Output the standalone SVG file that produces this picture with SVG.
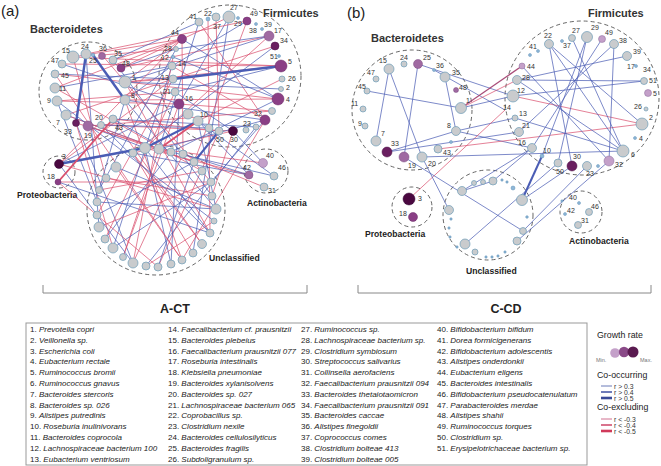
<svg xmlns="http://www.w3.org/2000/svg" width="661" height="466" viewBox="0 0 661 466">
<style>
text{font-family:"Liberation Sans",Arial,sans-serif;fill:#333}
.pl{font-size:15px;fill:#222}
.grp{font-size:11px;font-weight:bold}
.sub{font-size:8.6px;font-weight:bold;fill:#222}
.big{font-size:12.5px;font-weight:bold;fill:#222;text-anchor:middle}
.lb{font-size:7px;fill:#333}
.dash{fill:none;stroke:#555;stroke-width:0.9;stroke-dasharray:4 3}
.b{stroke:#4a5cb4;stroke-width:0.8;stroke-opacity:0.9}
.r{stroke:#d9506e;stroke-width:0.8;stroke-opacity:0.9}
.B{stroke:#4a5cb4;stroke-width:2.4}
.R{stroke:#d9506e;stroke-width:1.9}
.g{fill:#c9cbcd;stroke:#6d9cb8;stroke-width:0.7}
.s{fill:#8fb8d8;stroke:#5f8fb5;stroke-width:0.5}
.p1{fill:#c4a0c9;stroke:#8a6a9a;stroke-width:0.5}
.p2{fill:#a06aa2;stroke:#7a4a80;stroke-width:0.5}
.p3{fill:#8a3f85;stroke:#6a2a66;stroke-width:0.5}
.p4{fill:#6a1f60;stroke:#4a1044;stroke-width:0.5}
.p5{fill:#4a0840;stroke:#300530;stroke-width:0.5}
.lg{font-size:8px;fill:#222}
.i{font-style:italic}
.lh{font-size:8.8px;fill:#222}
.sm{font-size:5.5px;fill:#777}
.rl{font-size:6.8px;fill:#333}
.br{fill:none;stroke:#888;stroke-width:1}
</style>

<!-- panel labels -->
<text class="pl" x="1" y="16">(a)</text>
<text class="pl" x="347" y="18">(b)</text>

<!-- group outlines -->
<g id="groups">
<circle class="dash" cx="88" cy="91" r="49"/>
<text class="grp" x="30" y="33">Bacteroidetes</text>
<circle class="dash" cx="230" cy="76" r="71"/>
<text class="grp" x="263" y="17">Firmicutes</text>
<circle class="dash" cx="59" cy="172" r="16"/>
<text class="sub" x="17" y="198">Proteobacteria</text>
<ellipse class="dash" cx="156" cy="210" rx="69" ry="65"/>
<text class="sub" x="209" y="261">Unclassified</text>
<circle class="dash" cx="266" cy="171" r="22"/>
<text class="sub" x="247" y="206">Actinobacteria</text>

<circle class="dash" cx="412" cy="110" r="60"/>
<text class="grp" x="371" y="42">Bacteroidetes</text>
<circle class="dash" cx="582" cy="98" r="77"/>
<text class="grp" x="588" y="17">Firmicutes</text>
<circle class="dash" cx="412" cy="207" r="20"/>
<text class="sub" x="365" y="237">Proteobacteria</text>
<circle class="dash" cx="488" cy="215" r="45"/>
<text class="sub" x="466" y="274">Unclassified</text>
<circle class="dash" cx="581" cy="212" r="21"/>
<text class="sub" x="569" y="244">Actinobacteria</text>
</g>

<!-- connectors -->
<g id="connectors">
<!-- panel a thin -->
<line class="r" x1="73" y1="57" x2="182" y2="39"/>
<line class="r" x1="113" y1="60" x2="182" y2="39"/>
<line class="r" x1="102" y1="55" x2="176" y2="49"/>
<line class="r" x1="121" y1="68" x2="269" y2="36"/>
<line class="b" x1="121" y1="68" x2="176" y2="49"/>
<line class="r" x1="125" y1="82" x2="182" y2="39"/>
<line class="b" x1="125" y1="82" x2="269" y2="36"/>
<line class="r" x1="125" y1="82" x2="173" y2="79"/>
<line class="r" x1="125" y1="82" x2="281" y2="66"/>
<line class="b" x1="125" y1="100" x2="172" y2="66"/>
<line class="r" x1="125" y1="100" x2="278" y2="99"/>
<line class="b" x1="125" y1="100" x2="265" y2="120"/>
<line class="b" x1="125" y1="100" x2="216" y2="209"/>
<line class="r" x1="125" y1="100" x2="182" y2="260"/>
<line class="r" x1="88" y1="126" x2="194" y2="162"/>
<line class="r" x1="88" y1="126" x2="272" y2="111"/>
<line class="b" x1="76" y1="123" x2="133" y2="263"/>
<line class="r" x1="76" y1="123" x2="113" y2="248"/>
<line class="r" x1="66" y1="115" x2="173" y2="79"/>
<line class="b" x1="66" y1="115" x2="159" y2="149"/>
<line class="r" x1="57" y1="101" x2="175" y2="92"/>
<line class="r" x1="57" y1="101" x2="179" y2="104"/>
<line class="b" x1="57" y1="101" x2="97" y2="202"/>
<line class="b" x1="55" y1="88" x2="172" y2="66"/>
<line class="r" x1="55" y1="88" x2="202" y2="171"/>
<line class="b" x1="55" y1="74" x2="173" y2="79"/>
<line class="r" x1="55" y1="74" x2="278" y2="99"/>
<line class="r" x1="62" y1="64" x2="281" y2="66"/>
<line class="b" x1="101" y1="125" x2="210" y2="233"/>
<line class="r" x1="101" y1="125" x2="233" y2="131"/>
<line class="r" x1="113" y1="119" x2="202" y2="244"/>
<line class="b" x1="113" y1="119" x2="256" y2="127"/>
<line class="b" x1="113" y1="119" x2="171" y2="152"/>
<line class="b" x1="182" y1="39" x2="278" y2="99"/>
<line class="r" x1="182" y1="39" x2="183" y2="154"/>
<line class="b" x1="199" y1="22" x2="159" y2="149"/>
<line class="r" x1="199" y1="22" x2="265" y2="120"/>
<line class="b" x1="229" y1="17" x2="179" y2="104"/>
<line class="b" x1="229" y1="17" x2="193" y2="253"/>
<line class="r" x1="208" y1="18" x2="210" y2="233"/>
<line class="r" x1="216" y1="17" x2="219" y2="131"/>
<line class="r" x1="247" y1="21" x2="194" y2="162"/>
<line class="b" x1="247" y1="21" x2="172" y2="66"/>
<line class="b" x1="269" y1="36" x2="176" y2="49"/>
<line class="r" x1="269" y1="36" x2="145" y2="148"/>
<line class="b" x1="275" y1="46" x2="133" y2="153"/>
<line class="r" x1="275" y1="46" x2="173" y2="79"/>
<line class="b" x1="281" y1="66" x2="175" y2="92"/>
<line class="r" x1="282" y1="79" x2="198" y2="121"/>
<line class="b" x1="278" y1="99" x2="171" y2="152"/>
<line class="b" x1="278" y1="99" x2="173" y2="57"/>
<line class="r" x1="272" y1="111" x2="179" y2="104"/>
<line class="r" x1="265" y1="120" x2="172" y2="66"/>
<line class="b" x1="265" y1="120" x2="211" y2="182"/>
<line class="r" x1="265" y1="120" x2="182" y2="260"/>
<line class="r" x1="233" y1="131" x2="212" y2="196"/>
<line class="b" x1="233" y1="131" x2="175" y2="92"/>
<line class="r" x1="219" y1="131" x2="158" y2="267"/>
<line class="b" x1="256" y1="127" x2="146" y2="266"/>
<line class="r" x1="179" y1="104" x2="123" y2="257"/>
<line class="b" x1="179" y1="104" x2="171" y2="264"/>
<line class="r" x1="175" y1="92" x2="105" y2="239"/>
<line class="b" x1="172" y1="66" x2="113" y2="248"/>
<line class="r" x1="173" y1="79" x2="97" y2="215"/>
<line class="b" x1="176" y1="49" x2="99" y2="190"/>
<line class="r" x1="173" y1="57" x2="133" y2="263"/>
<line class="b" x1="198" y1="121" x2="216" y2="209"/>
<line class="b" x1="198" y1="121" x2="249" y2="175"/>
<line class="b" x1="233" y1="131" x2="263" y2="163"/>
<line class="b" x1="249" y1="175" x2="133" y2="153"/>
<line class="r" x1="249" y1="175" x2="145" y2="148"/>
<line class="b" x1="274" y1="176" x2="171" y2="152"/>
<line class="r" x1="263" y1="163" x2="159" y2="149"/>
<line class="r" x1="264" y1="187" x2="183" y2="154"/>
<line class="b" x1="274" y1="176" x2="198" y2="121"/>
<line class="r" x1="59" y1="164" x2="182" y2="39"/>
<line class="r" x1="59" y1="164" x2="216" y2="209"/>
<line class="r" x1="59" y1="164" x2="173" y2="79"/>
<line class="r" x1="58" y1="182" x2="211" y2="182"/>
<line class="b" x1="58" y1="182" x2="210" y2="233"/>
<line class="b" x1="59" y1="164" x2="179" y2="104"/>
<line class="r" x1="133" y1="153" x2="202" y2="244"/>
<line class="b" x1="145" y1="148" x2="171" y2="264"/>
<line class="r" x1="159" y1="149" x2="123" y2="257"/>
<line class="b" x1="171" y1="152" x2="105" y2="239"/>
<line class="r" x1="183" y1="154" x2="133" y2="263"/>
<line class="b" x1="194" y1="162" x2="97" y2="215"/>
<line class="r" x1="202" y1="171" x2="99" y2="190"/>
<line class="b" x1="211" y1="182" x2="113" y2="248"/>
<line class="r" x1="212" y1="196" x2="106" y2="178"/>
<line class="b" x1="216" y1="209" x2="116" y2="167"/>
<line class="r" x1="214" y1="221" x2="146" y2="266"/>
<line class="b" x1="210" y1="233" x2="145" y2="148"/>
<line class="r" x1="193" y1="253" x2="133" y2="153"/>
<line class="b" x1="158" y1="267" x2="194" y2="162"/>
<line class="r" x1="99" y1="227" x2="211" y2="182"/>
<line class="b" x1="97" y1="202" x2="216" y2="209"/>
<line class="r" x1="116" y1="167" x2="182" y2="260"/>
<line class="r" x1="73" y1="57" x2="106" y2="178"/>
<line class="b" x1="86" y1="54" x2="99" y2="227"/>
<line class="r" x1="102" y1="55" x2="211" y2="182"/>
<line class="b" x1="113" y1="60" x2="212" y2="196"/>
<line class="r" x1="125" y1="82" x2="210" y2="233"/>
<line class="b" x1="125" y1="100" x2="99" y2="190"/>
<line class="b" x1="88" y1="126" x2="145" y2="148"/>
<line class="r" x1="76" y1="123" x2="171" y2="152"/>
<line class="r" x1="66" y1="115" x2="194" y2="162"/>
<line class="b" x1="57" y1="101" x2="214" y2="221"/>
<line class="r" x1="55" y1="88" x2="182" y2="39"/>
<line class="b" x1="62" y1="64" x2="179" y2="104"/>
<line class="r" x1="55" y1="74" x2="182" y2="260"/>
<line class="r" x1="73" y1="57" x2="281" y2="66"/>
<line class="r" x1="86" y1="54" x2="247" y2="21"/>
<line class="b" x1="113" y1="60" x2="199" y2="22"/>
<line class="r" x1="121" y1="68" x2="229" y2="17"/>
<line class="b" x1="125" y1="82" x2="281" y2="89"/>
<line class="r" x1="113" y1="119" x2="219" y2="131"/>
<line class="b" x1="101" y1="125" x2="209" y2="128"/>
<line class="r" x1="133" y1="153" x2="233" y2="131"/>
<line class="b" x1="159" y1="149" x2="265" y2="120"/>
<line class="b" x1="183" y1="154" x2="249" y2="175"/>
<line class="r" x1="58" y1="182" x2="158" y2="267"/>
<line class="b" x1="59" y1="164" x2="133" y2="263"/>
<!-- panel a thick -->
<line class="B" x1="86" y1="54" x2="76" y2="123"/>
<line class="B" x1="93" y1="55" x2="125" y2="100"/>
<line class="B" x1="173" y1="79" x2="281" y2="66"/>
<line class="B" x1="59" y1="164" x2="145" y2="148"/>
<line class="B" x1="219" y1="131" x2="194" y2="162" style="stroke-width:2"/>
<line class="B" x1="145" y1="148" x2="198" y2="121" style="stroke-width:2"/>
<line class="R" x1="58" y1="182" x2="113" y2="119"/>
<line class="R" x1="198" y1="121" x2="159" y2="149"/>

<!-- panel b -->
<line class="b" x1="389" y1="69" x2="376" y2="141"/>
<line class="b" x1="389" y1="69" x2="422" y2="157"/>
<line class="b" x1="418" y1="64" x2="404" y2="157"/>
<line class="b" x1="418" y1="64" x2="513" y2="96"/>
<line class="b" x1="367" y1="91" x2="461" y2="108"/>
<line class="b" x1="445" y1="77" x2="456" y2="131"/>
<line class="b" x1="434" y1="70" x2="505" y2="110"/>
<line class="r" x1="461" y1="108" x2="522" y2="66" style="stroke:#a03a6a;stroke-width:1.3"/>
<line class="r" x1="461" y1="108" x2="517" y2="80"/>
<line class="b" x1="461" y1="108" x2="513" y2="96"/>
<line class="b" x1="456" y1="131" x2="387" y2="152"/>
<line class="b" x1="456" y1="131" x2="515" y2="118"/>
<line class="b" x1="456" y1="131" x2="532" y2="148"/>
<line class="r" x1="438" y1="149" x2="642" y2="124"/>
<line class="r" x1="513" y1="96" x2="642" y2="124"/>
<line class="r" x1="409" y1="199" x2="505" y2="110"/>
<line class="b" x1="422" y1="157" x2="449" y2="210"/>
<line class="b" x1="404" y1="157" x2="523" y2="231"/>
<line class="b" x1="422" y1="157" x2="623" y2="151"/>
<line class="b" x1="387" y1="152" x2="519" y2="132"/>
<line class="b" x1="549" y1="44" x2="623" y2="151"/>
<line class="b" x1="549" y1="44" x2="572" y2="166"/>
<line class="b" x1="572" y1="38" x2="623" y2="151"/>
<line class="b" x1="587" y1="37" x2="542" y2="156"/>
<line class="b" x1="587" y1="37" x2="558" y2="163"/>
<line class="b" x1="614" y1="44" x2="519" y2="132"/>
<line class="b" x1="614" y1="44" x2="609" y2="161"/>
<line class="b" x1="627" y1="56" x2="517" y2="80"/>
<line class="b" x1="644" y1="81" x2="517" y2="80"/>
<line class="b" x1="644" y1="81" x2="513" y2="96"/>
<line class="b" x1="602" y1="39" x2="532" y2="148"/>
<line class="b" x1="549" y1="44" x2="642" y2="124"/>
<line class="b" x1="515" y1="118" x2="623" y2="151"/>
<line class="b" x1="522" y1="66" x2="609" y2="161"/>
<line class="b" x1="517" y1="80" x2="623" y2="151"/>
<line class="B" x1="542" y1="156" x2="522" y2="200" style="stroke-width:2"/>
<line class="b" x1="462" y1="191" x2="493" y2="181"/>
<line class="b" x1="493" y1="181" x2="532" y2="148"/>
<line class="b" x1="587" y1="166" x2="523" y2="231"/>
<line class="b" x1="558" y1="163" x2="465" y2="244"/>
<line class="b" x1="572" y1="166" x2="522" y2="200"/>
<line class="b" x1="609" y1="161" x2="517" y2="241"/>
<line class="b" x1="462" y1="191" x2="532" y2="148"/>
</g>

<!-- nodes panel a -->
<g id="a-n15"><circle class="g" cx="73" cy="57" r="6"/><text class="lb" x="62" y="53">15</text></g>
<g id="a-n24"><circle class="g" cx="86" cy="54" r="5"/><text class="lb" x="81" y="49">24</text></g>
<g id="a-n25"><circle class="s" cx="93" cy="55" r="1.8"/><text class="lb" x="89" y="63">25</text></g>
<g id="a-n36"><circle class="p2" cx="102" cy="56" r="3.5"/><text class="lb" x="99" y="51">36</text></g>
<g id="a-n35"><circle class="g" cx="113" cy="60" r="4"/><text class="lb" x="114" y="56">35</text></g>
<g id="a-n48"><circle class="p3" cx="121" cy="68" r="4"/><text class="lb" x="122" y="66">48</text></g>
<g id="a-n47"><circle class="g" cx="62" cy="64" r="4"/><text class="lb" x="51" y="63">47</text></g>
<g id="a-n45"><circle class="g" cx="55" cy="74" r="4"/><text class="lb" x="61" y="78">45</text></g>
<g id="a-n11"><circle class="g" cx="55" cy="88" r="5"/><text class="lb" x="59" y="91">11</text></g>
<g id="a-n9"><circle class="g" cx="57" cy="101" r="5"/><text class="lb" x="47" y="103">9</text></g>
<g id="a-n7"><circle class="g" cx="66" cy="115" r="5"/><text class="lb" x="56" y="125">7</text></g>
<g id="a-n33"><circle class="p4" cx="76" cy="123" r="3.5"/><text class="lb" x="64" y="134">33</text></g>
<g id="a-n19"><circle class="p2" cx="88" cy="126" r="5"/><text class="lb" x="84" y="138">19</text></g>
<g id="a-n20"><circle class="g" cx="101" cy="125" r="3.5"/><text class="lb" x="95" y="120">20</text></g>
<g id="a-n43"><circle class="g" cx="113" cy="119" r="4"/><text class="lb" x="115" y="130">43</text></g>
<g id="a-n1"><circle class="g" cx="125" cy="82" r="6"/><text class="lb" x="132" y="80">1</text></g>
<g id="a-n8"><circle class="g" cx="125" cy="100" r="5"/><text class="lb" x="131" y="98">8</text></g>

<g id="a-n41"><circle class="g" cx="199" cy="22" r="4"/><text class="lb" x="189" y="19">41</text></g>
<g id="a-n22"><circle class="s" cx="208" cy="19" r="2"/><text class="lb" x="204" y="16">22</text></g>
<g id="a-n37"><circle class="g" cx="216" cy="17" r="4"/><text class="lb" x="213" y="29">37</text></g>
<g id="a-n27"><circle class="g" cx="229" cy="17" r="6"/><text class="lb" x="230" y="10">27</text></g>
<g id="a-n29"><circle class="s" cx="238" cy="18" r="1.5"/><text class="lb" x="234" y="26">29</text></g>
<g id="a-n49"><circle class="p3" cx="247" cy="21" r="4"/><text class="lb" x="250" y="16">49</text></g>
<g id="a-n38"><circle class="s" cx="256" cy="24" r="1.5"/><text class="lb" x="249" y="33">38</text></g>
<g id="a-n39"><circle class="s" cx="262" cy="29" r="1.5"/><text class="lb" x="264" y="27">39</text></g>
<g id="a-n17"><circle class="p2" cx="269" cy="36" r="5"/><text class="lb" x="274" y="33">17</text></g>
<g id="a-n34"><circle class="p4" cx="275" cy="46" r="4"/><text class="lb" x="280" y="43">34</text></g>
<g id="a-n51"><circle class="s" cx="279" cy="56" r="1.5"/><text class="lb" x="270" y="59">51</text></g>
<g id="a-n5"><circle class="p3" cx="281" cy="66" r="6"/><text class="lb" x="288" y="64">5</text></g>
<g id="a-n26"><circle class="g" cx="282" cy="79" r="3"/><text class="lb" x="288" y="81">26</text></g>
<g id="a-n2"><circle class="g" cx="281" cy="89" r="2.5"/><text class="lb" x="286" y="90">2</text></g>
<g id="a-n4"><circle class="p3" cx="278" cy="99" r="6"/><text class="lb" x="286" y="102">4</text></g>
<g id="a-n6"><circle class="g" cx="272" cy="111" r="3.5"/></g>
<g id="a-n32"><circle class="p3" cx="265" cy="120" r="5"/><text class="lb" x="254" y="116">32</text></g>
<g id="a-n23"><circle class="g" cx="256" cy="127" r="3"/><text class="lb" x="243" y="126">23</text></g>
<g id="a-g1"><circle class="g" cx="246" cy="130" r="3"/></g>
<g id="a-n30"><circle class="p5" cx="233" cy="131" r="4.5"/><text class="lb" x="230" y="142">30</text></g>
<g id="a-n50"><circle class="g" cx="219" cy="131" r="4"/><text class="lb" x="216" y="142">50</text></g>
<g id="a-g2"><circle class="g" cx="209" cy="128" r="4"/></g>
<g id="a-n10"><circle class="g" cx="198" cy="121" r="5"/><text class="lb" x="200" y="117">10</text></g>
<g id="a-g3"><circle class="g" cx="188" cy="114" r="5"/></g>
<g id="a-n16"><circle class="p3" cx="179" cy="104" r="5"/><text class="lb" x="185" y="101">16</text></g>
<g id="a-n21"><circle class="g" cx="175" cy="92" r="4"/><text class="lb" x="163" y="94">21</text></g>
<g id="a-n13"><circle class="g" cx="173" cy="79" r="4"/><text class="lb" x="161" y="80">13</text></g>
<g id="a-n14"><circle class="g" cx="172" cy="66" r="4"/><text class="lb" x="178" y="66">14</text></g>
<g id="a-n12"><circle class="s" cx="173" cy="57" r="1.8"/><text class="lb" x="161" y="60">12</text></g>
<g id="a-n28"><circle class="g" cx="176" cy="49" r="2.5"/><text class="lb" x="164" y="51">28</text></g>
<g id="a-n44"><circle class="p3" cx="182" cy="39" r="4.5"/><text class="lb" x="171" y="35">44</text></g>

<g id="a-unclassified">
<circle class="g" cx="133" cy="153" r="4"/>
<circle class="g" cx="145" cy="148" r="5.5"/>
<circle class="g" cx="159" cy="149" r="5"/>
<circle class="g" cx="171" cy="152" r="4"/>
<circle class="g" cx="183" cy="154" r="4"/>
<circle class="g" cx="194" cy="162" r="4"/>
<circle class="g" cx="202" cy="171" r="4"/>
<circle class="g" cx="211" cy="182" r="4"/>
<circle class="g" cx="212" cy="196" r="4"/>
<circle class="g" cx="216" cy="209" r="5"/>
<circle class="g" cx="214" cy="221" r="3"/>
<circle class="g" cx="210" cy="233" r="4"/>
<circle class="g" cx="202" cy="244" r="4.5"/>
<circle class="g" cx="193" cy="253" r="4"/>
<circle class="g" cx="182" cy="260" r="4"/>
<circle class="g" cx="171" cy="264" r="4"/>
<circle class="g" cx="158" cy="267" r="4"/>
<circle class="g" cx="146" cy="266" r="4"/>
<circle class="g" cx="133" cy="263" r="5"/>
<circle class="g" cx="123" cy="257" r="3.5"/>
<circle class="g" cx="113" cy="248" r="5"/>
<circle class="g" cx="105" cy="239" r="4"/>
<circle class="g" cx="99" cy="227" r="5"/>
<circle class="g" cx="97" cy="215" r="4"/>
<circle class="g" cx="97" cy="202" r="4"/>
<circle class="g" cx="99" cy="190" r="3.5"/>
<circle class="g" cx="106" cy="178" r="4"/>
<circle class="g" cx="116" cy="167" r="5"/>
</g>

<g id="a-n40"><circle class="p1" cx="263" cy="163" r="4.5"/><text class="lb" x="266" y="158">40</text></g>
<g id="a-n42"><circle class="p2" cx="249" cy="175" r="4"/><text class="lb" x="243" y="170">42</text></g>
<g id="a-n46"><circle class="g" cx="274" cy="176" r="4"/><text class="lb" x="278" y="170">46</text></g>
<g id="a-n31"><circle class="g" cx="264" cy="187" r="4"/><text class="lb" x="268" y="193">31</text></g>
<g id="a-n3"><circle class="p5" cx="59" cy="164" r="4.5"/><text class="lb" x="62" y="159">3</text></g>
<g id="a-n18"><circle class="p3" cx="58" cy="182" r="3"/><text class="lb" x="47" y="179">18</text></g>

<!-- nodes panel b -->
<g id="b-n15"><circle class="g" cx="389" cy="69" r="5"/><text class="lb" x="379" y="63">15</text></g>
<g id="b-n24"><circle class="g" cx="404" cy="64" r="3"/><text class="lb" x="400" y="60">24</text></g>
<g id="b-n25"><circle class="p2" cx="418" cy="64" r="4.5"/><text class="lb" x="423" y="60">25</text></g>
<g id="b-n36"><circle class="s" cx="434" cy="70" r="1.5"/><text class="lb" x="436" y="68">36</text></g>
<g id="b-n35"><circle class="g" cx="445" cy="77" r="5"/><text class="lb" x="452" y="75">35</text></g>
<g id="b-n48"><circle class="p2" cx="456" cy="90" r="2.5"/><text class="lb" x="459" y="90">48</text></g>
<g id="b-n47"><circle class="g" cx="376" cy="79" r="3"/><text class="lb" x="367" y="75">47</text></g>
<g id="b-n45"><circle class="g" cx="367" cy="91" r="3"/><text class="lb" x="358" y="89">45</text></g>
<g id="b-n11"><circle class="g" cx="363" cy="109" r="3"/><text class="lb" x="351" y="106">11</text></g>
<g id="b-n9"><circle class="g" cx="365" cy="126" r="3"/><text class="lb" x="358" y="126">9</text></g>
<g id="b-n7"><circle class="g" cx="376" cy="141" r="5"/><text class="lb" x="381" y="136">7</text></g>
<g id="b-n33"><circle class="p4" cx="387" cy="152" r="5"/><text class="lb" x="391" y="146">33</text></g>
<g id="b-n19"><circle class="p2" cx="404" cy="157" r="5"/><text class="lb" x="408" y="168">19</text></g>
<g id="b-n20"><circle class="g" cx="422" cy="157" r="5"/><text class="lb" x="428" y="166">20</text></g>
<g id="b-n43"><circle class="g" cx="438" cy="149" r="4"/><text class="lb" x="443" y="155">43</text></g>
<g id="b-n1"><circle class="g" cx="461" cy="108" r="5.5"/><text class="lb" x="466" y="103">1</text></g>
<g id="b-n8"><circle class="g" cx="456" cy="131" r="4.5"/><text class="lb" x="447" y="128">8</text></g>
<g id="b-x1"><circle class="s" cx="451" cy="142" r="1.5"/></g>
<g id="b-n3"><circle class="p5" cx="409" cy="199" r="6"/><text class="lb" x="418" y="201">3</text></g>
<g id="b-n18"><circle class="p3" cx="413" cy="217" r="4.5"/><text class="lb" x="399" y="216">18</text></g>

<g id="b-n41"><circle class="s" cx="530" cy="55" r="1.5"/><circle class="s" cx="538" cy="51" r="1.5"/><text class="lb" x="529" y="49">41</text></g>
<g id="b-n22"><circle class="g" cx="549" cy="44" r="4.5"/><text class="lb" x="544" y="38">22</text></g>
<g id="b-n37"><circle class="s" cx="562" cy="41" r="1.5"/><text class="lb" x="563" y="48">37</text></g>
<g id="b-n27"><circle class="g" cx="572" cy="38" r="3.5"/><text class="lb" x="572" y="33">27</text></g>
<g id="b-n29"><circle class="g" cx="587" cy="37" r="5.5"/><text class="lb" x="591" y="30">29</text></g>
<g id="b-n49"><circle class="p1" cx="602" cy="39" r="3.5"/><text class="lb" x="605" y="35">49</text></g>
<g id="b-n38"><circle class="g" cx="614" cy="44" r="4.5"/><text class="lb" x="619" y="43">38</text></g>
<g id="b-n39"><circle class="g" cx="627" cy="56" r="4.5"/><text class="lb" x="633" y="54">39</text></g>
<g id="b-n17"><circle class="s" cx="636" cy="66" r="1.5"/><text class="lb" x="627" y="69">17</text></g>
<g id="b-n34"><text class="lb" x="643" y="72">34</text></g>
<g id="b-n51"><circle class="g" cx="644" cy="81" r="3.5"/><text class="lb" x="649" y="83">51</text></g>
<g id="b-n5"><circle class="p1" cx="648" cy="93" r="3.5"/><text class="lb" x="653" y="96">5</text></g>
<g id="b-n26"><circle class="g" cx="646" cy="109" r="2"/><text class="lb" x="634" y="109">26</text></g>
<g id="b-n2"><circle class="g" cx="642" cy="124" r="6"/><text class="lb" x="649" y="120">2</text></g>
<g id="b-n4"><circle class="s" cx="635" cy="138" r="1.5"/><text class="lb" x="639" y="141">4</text></g>
<g id="b-n6"><circle class="g" cx="623" cy="151" r="6"/><text class="lb" x="631" y="157">6</text></g>
<g id="b-n44"><circle class="p1" cx="522" cy="66" r="3"/><text class="lb" x="527" y="69">44</text></g>
<g id="b-n28"><circle class="g" cx="517" cy="80" r="4.5"/><text class="lb" x="522" y="80">28</text></g>
<g id="b-n12"><circle class="g" cx="513" cy="96" r="6"/><text class="lb" x="517" y="93">12</text></g>
<g id="b-n14"><text class="lb" x="503" y="110">14</text></g>
<g id="b-n13"><circle class="g" cx="515" cy="118" r="3"/><text class="lb" x="519" y="116">13</text></g>
<g id="b-n21"><circle class="g" cx="519" cy="132" r="4.5"/><text class="lb" x="522" y="128">21</text></g>
<g id="b-n16"><circle class="g" cx="532" cy="148" r="4.5"/><text class="lb" x="518" y="145">16</text></g>
<g id="b-n10"><circle class="s" cx="542" cy="156" r="2"/><text class="lb" x="543" y="153">10</text></g>
<g id="b-n50"><circle class="g" cx="558" cy="163" r="4"/><text class="lb" x="556" y="174">50</text></g>
<g id="b-n30"><circle class="p4" cx="572" cy="166" r="5"/><text class="lb" x="573" y="159">30</text></g>
<g id="b-n23"><circle class="g" cx="587" cy="166" r="4.5"/><text class="lb" x="586" y="176">23</text></g>
<g id="b-x2"><circle class="s" cx="598" cy="166" r="1.5"/></g>
<g id="b-n32"><circle class="p1" cx="609" cy="161" r="5"/><text class="lb" x="615" y="167">32</text></g>

<g id="b-unclassified">
<circle class="g" cx="462" cy="191" r="4.5"/>
<circle class="g" cx="474" cy="183" r="2.5"/>
<circle class="g" cx="483" cy="182" r="2.5"/>
<circle class="g" cx="493" cy="181" r="4"/>
<circle class="g" cx="449" cy="210" r="4.5"/>
<circle class="g" cx="465" cy="244" r="5"/>
<circle class="g" cx="475" cy="252" r="3"/>
<circle class="g" cx="522" cy="200" r="5.5"/>
<circle class="g" cx="523" cy="231" r="3.5"/>
<circle class="g" cx="517" cy="241" r="4"/>
<circle class="s" cx="513" cy="188" r="2"/>
<circle class="s" cx="502" cy="180" r="1.2"/>
<circle class="s" cx="507" cy="182" r="1.2"/>
<circle class="s" cx="449" cy="228" r="1.2"/>
<circle class="s" cx="450" cy="237" r="1.2"/>
<circle class="s" cx="457" cy="247" r="1.2"/>
<circle class="s" cx="486" cy="257" r="1.2"/>
<circle class="s" cx="492" cy="257" r="1.2"/>
<circle class="s" cx="498" cy="256" r="1.2"/>
<circle class="s" cx="505" cy="252" r="1.2"/>
<circle class="s" cx="527" cy="217" r="1.3"/>
<circle class="s" cx="451" cy="219" r="1.2"/>
</g>
<g id="b-n40"><circle class="s" cx="579" cy="203" r="1.5"/><text class="lb" x="569" y="200">40</text></g>
<g id="b-n42"><circle class="s" cx="565" cy="214" r="1.5"/><text class="lb" x="567" y="213">42</text></g>
<g id="b-n46"><circle class="g" cx="589" cy="212" r="3.5"/><text class="lb" x="591" y="209">46</text></g>
<g id="b-n31"><circle class="g" cx="578" cy="225" r="3.5"/><text class="lb" x="581" y="223">31</text></g>
<g id="b-x3"><circle class="s" cx="562" cy="201" r="1.2"/></g>

<!-- brackets -->
<g id="brackets">
<path class="br" d="M43,285 V293 H307 V285"/>
<text class="big" x="175" y="313">A-CT</text>
<path class="br" d="M358,285 V293 H651 V285"/>
<text class="big" x="506" y="313">C-CD</text>
</g>

<!-- legend -->
<g id="legend">
<rect x="26" y="323" width="561" height="142" fill="#fff" stroke="#999" stroke-width="1"/>
<text class="lg" x="30" y="332">1. <tspan class="i">Prevotella copri</tspan></text>
<text class="lg" x="30" y="342.8">2. <tspan class="i">Veillonella sp.</tspan></text>
<text class="lg" x="30" y="353.6">3. <tspan class="i">Escherichia coli</tspan></text>
<text class="lg" x="30" y="364.4">4. <tspan class="i">Eubacterium rectale</tspan></text>
<text class="lg" x="30" y="375.2">5. <tspan class="i">Ruminococcus bromii</tspan></text>
<text class="lg" x="30" y="386">6. <tspan class="i">Ruminococcus gnavus</tspan></text>
<text class="lg" x="30" y="396.8">7. <tspan class="i">Bacteroides stercoris</tspan></text>
<text class="lg" x="30" y="407.6">8. <tspan class="i">Bacteroides sp. 026</tspan></text>
<text class="lg" x="30" y="418.4">9. <tspan class="i">Alistipes putredinis</tspan></text>
<text class="lg" x="30" y="429.2">10. <tspan class="i">Roseburia inulinivorans</tspan></text>
<text class="lg" x="30" y="440">11. <tspan class="i">Bacteroides coprocola</tspan></text>
<text class="lg" x="30" y="450.8">12. <tspan class="i">Lachnospiraceae bacterium 100</tspan></text>
<text class="lg" x="30" y="461.6">13. <tspan class="i">Eubacterium ventriosum</tspan></text>

<text class="lg" x="168" y="332">14. <tspan class="i">Faecalibacterium cf. prausnitzii</tspan></text>
<text class="lg" x="168" y="342.8">15. <tspan class="i">Bacteroides plebeius</tspan></text>
<text class="lg" x="168" y="353.6">16. <tspan class="i">Faecalibacterium prausnitzii 077</tspan></text>
<text class="lg" x="168" y="364.4">17. <tspan class="i">Roseburia intestinalis</tspan></text>
<text class="lg" x="168" y="375.2">18. <tspan class="i">Klebsiella pneumoniae</tspan></text>
<text class="lg" x="168" y="386">19. <tspan class="i">Bacteroides xylanisolvens</tspan></text>
<text class="lg" x="168" y="396.8">20. <tspan class="i">Bacteroides sp. 027</tspan></text>
<text class="lg" x="168" y="407.6">21. <tspan class="i">Lachnospiraceae bacterium 065</tspan></text>
<text class="lg" x="168" y="418.4">22. <tspan class="i">Coprobacillus sp.</tspan></text>
<text class="lg" x="168" y="429.2">23. <tspan class="i">Clostridium nexile</tspan></text>
<text class="lg" x="168" y="440">24. <tspan class="i">Bacteroides cellulosilyticus</tspan></text>
<text class="lg" x="168" y="450.8">25. <tspan class="i">Bacteroides fragilis</tspan></text>
<text class="lg" x="168" y="461.6">26. <tspan class="i">Subdoligranulum sp.</tspan></text>

<text class="lg" x="301" y="332">27. <tspan class="i">Ruminococcus sp.</tspan></text>
<text class="lg" x="301" y="342.8">28. <tspan class="i">Lachnospiraceae bacterium sp.</tspan></text>
<text class="lg" x="301" y="353.6">29. <tspan class="i">Clostridium symbiosum</tspan></text>
<text class="lg" x="301" y="364.4">30. <tspan class="i">Streptococcus salivarius</tspan></text>
<text class="lg" x="301" y="375.2">31. <tspan class="i">Collinsella aerofaciens</tspan></text>
<text class="lg" x="301" y="386">32. <tspan class="i">Faecalibacterium prausnitzii 094</tspan></text>
<text class="lg" x="301" y="396.8">33. <tspan class="i">Bacteroides thetaiotaomicron</tspan></text>
<text class="lg" x="301" y="407.6">34. <tspan class="i">Faecalibacterium prausnitzii 091</tspan></text>
<text class="lg" x="301" y="418.4">35. <tspan class="i">Bacteroides caccae</tspan></text>
<text class="lg" x="301" y="429.2">36. <tspan class="i">Alistipes finegoldii</tspan></text>
<text class="lg" x="301" y="440">37. <tspan class="i">Coprococcus comes</tspan></text>
<text class="lg" x="301" y="450.8">38. <tspan class="i">Clostridium bolteae 413</tspan></text>
<text class="lg" x="301" y="461.6">39. <tspan class="i">Clostridium bolteae 005</tspan></text>

<text class="lg" x="437" y="332">40. <tspan class="i">Bifidobacterium bifidum</tspan></text>
<text class="lg" x="437" y="342.8">41. <tspan class="i">Dorea formicigenerans</tspan></text>
<text class="lg" x="437" y="353.6">42. <tspan class="i">Bifidobacterium adolescentis</tspan></text>
<text class="lg" x="437" y="364.4">43. <tspan class="i">Alistipes onderdonkii</tspan></text>
<text class="lg" x="437" y="375.2">44. <tspan class="i">Eubacterium eligens</tspan></text>
<text class="lg" x="437" y="386">45. <tspan class="i">Bacteroides intestinalis</tspan></text>
<text class="lg" x="437" y="396.8">46. <tspan class="i">Bifidobacterium pseudocatenulatum</tspan></text>
<text class="lg" x="437" y="407.6">47. <tspan class="i">Parabacteroides merdae</tspan></text>
<text class="lg" x="437" y="418.4">48. <tspan class="i">Alistipes shahii</tspan></text>
<text class="lg" x="437" y="429.2">49. <tspan class="i">Ruminococcus torques</tspan></text>
<text class="lg" x="437" y="440">50. <tspan class="i">Clostridium sp.</tspan></text>
<text class="lg" x="437" y="450.8">51. <tspan class="i">Erysipelotrichaceae bacterium sp.</tspan></text>
</g>

<g id="key">
<text class="lh" x="597" y="338">Growth rate</text>
<circle cx="615" cy="353" r="4.8" fill="#c4a0c9"/>
<circle cx="624" cy="352" r="5.2" fill="#8a4a88"/>
<circle cx="633" cy="352" r="5.5" fill="#5a1a50"/>
<text class="sm" x="596" y="362">Min.</text>
<text class="sm" x="640" y="362">Max.</text>
<text class="lh" x="597" y="378">Co-occurring</text>
<line x1="601" y1="386" x2="612" y2="386" stroke="#6a7ab8" stroke-width="1"/>
<line x1="601" y1="392" x2="612" y2="392" stroke="#4a5aa8" stroke-width="1.6"/>
<line x1="601" y1="398" x2="612" y2="398" stroke="#3a4a98" stroke-width="2.6"/>
<text class="rl" x="614" y="388.5">r &gt; 0.3</text>
<text class="rl" x="614" y="394.5">r &gt; 0.4</text>
<text class="rl" x="614" y="400.5">r &gt; 0.5</text>
<text class="lh" x="597" y="410">Co-excluding</text>
<line x1="601" y1="419" x2="612" y2="419" stroke="#d07090" stroke-width="1"/>
<line x1="601" y1="425" x2="612" y2="425" stroke="#d05070" stroke-width="1.6"/>
<line x1="601" y1="431" x2="612" y2="431" stroke="#d03a5a" stroke-width="2.6"/>
<text class="rl" x="614" y="421.5">r &lt; -0.3</text>
<text class="rl" x="614" y="427.5">r &lt; -0.4</text>
<text class="rl" x="614" y="433.5">r &lt; -0.5</text>
</g>
</svg>
